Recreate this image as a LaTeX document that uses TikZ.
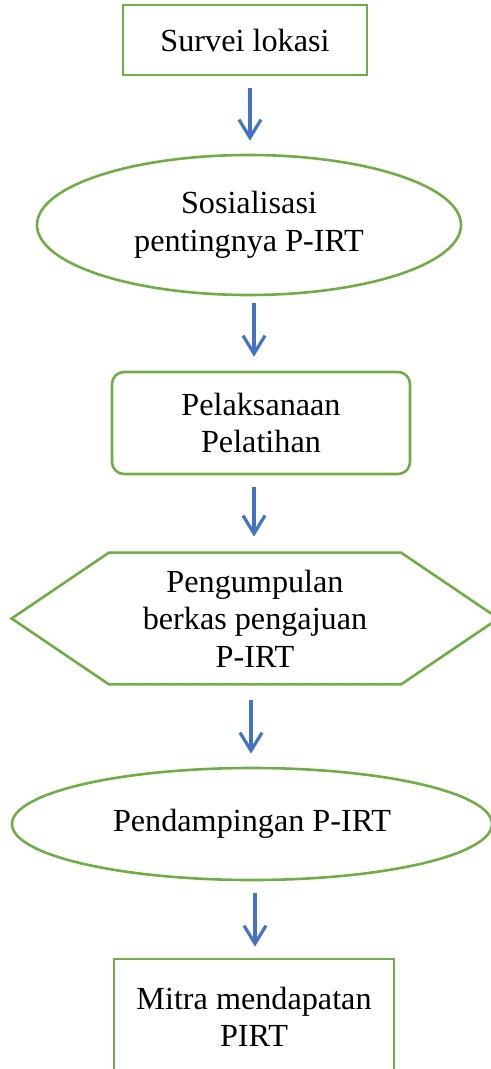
\documentclass[tikz,border=0pt]{standalone}
\usepackage{fontspec}
\setmainfont{Liberation Serif}
\usepackage{tikz}
\usetikzlibrary{arrows.meta,calc,positioning,shapes.geometric}
\definecolor{leafgreen}{RGB}{112,173,71}
\definecolor{flowblue}{RGB}{68,114,196}

\begin{document}
\begin{tikzpicture}[x=0.5pt,y=-0.5pt,
  font=\fontsize{16.1}{18.8}\selectfont,
  box/.style={draw=leafgreen,line width=1.3pt,inner sep=0pt,align=center},
  oval/.style={box,ellipse},
  arr/.style={draw=flowblue,line width=1.6pt,-{Straight Barb[length=9pt,width=11pt]},shorten <=6pt,shorten >=6.5pt}]
\useasboundingbox (0,0) rectangle (491,1069);
\node[box,minimum width=122pt,minimum height=35pt] (survei) at (245,40) {Survei lokasi};
\node[oval,minimum width=212pt,minimum height=70pt] (sosialisasi) at (249,225) {Sosialisasi\\pentingnya P-IRT};
\node[box,rounded corners=6pt,minimum width=149pt,minimum height=51pt] (pelatihan) at (261,423) {Pelaksanaan\\Pelatihan};
\node[inner sep=0pt,align=center,minimum width=243pt,minimum height=65.5pt] (berkas) at (255,618.5) {Pengumpulan\\berkas pengajuan\\P-IRT};
\draw[leafgreen,line width=1.3pt] (berkas.west) -- ($(berkas.north west)!0.2!(berkas.north east)$)
  -- ($(berkas.north west)!0.8!(berkas.north east)$) -- (berkas.east)
  -- ($(berkas.south west)!0.8!(berkas.south east)$)
  -- ($(berkas.south west)!0.2!(berkas.south east)$) -- cycle;
\node[oval,minimum width=240pt,minimum height=56pt] (pendampingan) at (252,824) {Pendampingan P-IRT};
\node[box,minimum width=140pt,minimum height=58pt] (mitra) at (254,1017) {Mitra mendapatan\\PIRT};
% arrows
\draw[arr] (survei.south -| 250,0) -- (sosialisasi.north -| 250,0);
\draw[arr,shorten <=3.5pt,shorten >=7pt] (sosialisasi.south -| 254,0) -- (pelatihan.north -| 254,0);
\draw[arr,shorten >=8pt] (pelatihan.south -| 254,0) -- (berkas.north -| 254,0);
\draw[arr,shorten <=8pt] (berkas.south -| 251,0) -- (pendampingan.north -| 251,0);
\draw[arr,shorten >=5.5pt] (pendampingan.south -| 255,0) -- (mitra.north -| 255,0);
\end{tikzpicture}
\end{document}
